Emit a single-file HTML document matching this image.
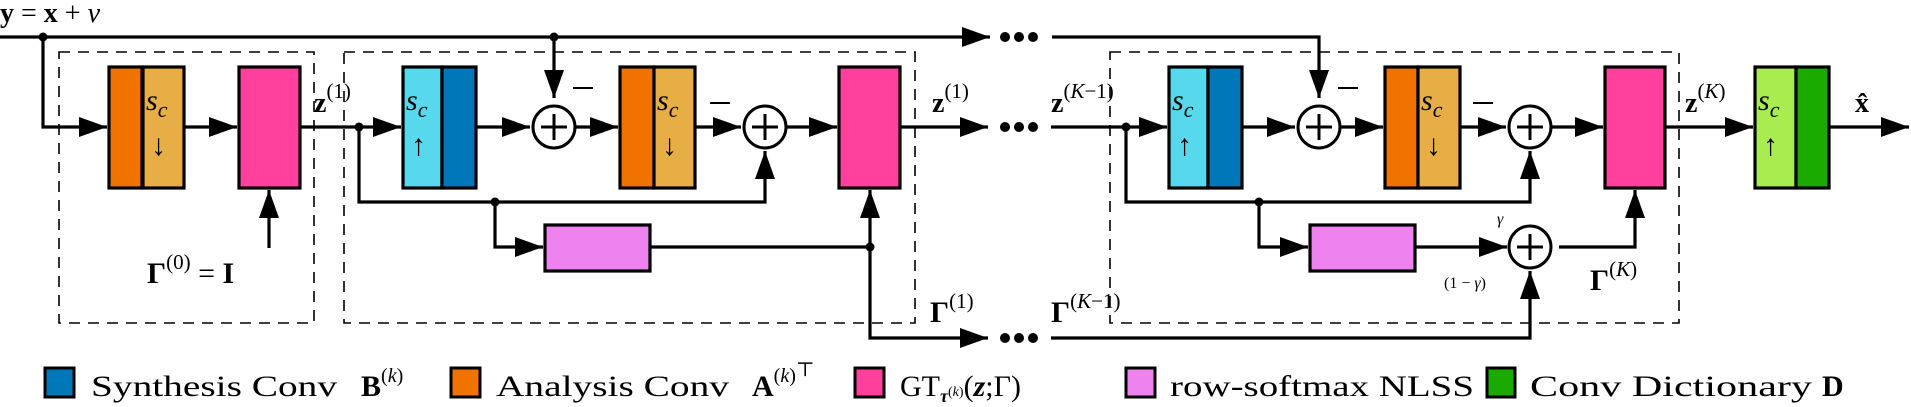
<!DOCTYPE html>
<html><head><meta charset="utf-8"><style>
html,body{margin:0;padding:0;background:#fff;}
svg{display:block;}
text{font-family:"Liberation Serif","DejaVu Serif",serif;fill:#000;}
</style></head><body>
<svg width="1911" height="407" viewBox="0 0 1911 407" xmlns="http://www.w3.org/2000/svg">
<defs>
<marker id="a" viewBox="0 0 28 20" refX="28" refY="10" markerWidth="28" markerHeight="20" markerUnits="userSpaceOnUse" orient="auto">
<path d="M0,0 L28,10 L0,20 Z" fill="#000"/></marker>
</defs>
<g fill="none" stroke="#000" stroke-width="1.6" stroke-dasharray="11,8">
<rect x="59" y="52" width="255" height="271"/>
<rect x="344" y="52" width="571" height="271"/>
<rect x="1110" y="52" width="569" height="271"/>
</g>
<g stroke="#000" stroke-width="3.2" fill="none">
<!-- top line -->
<line x1="0" y1="37" x2="990" y2="37" marker-end="url(#a)"/>
<polyline points="1052,37 1319,37 1319,98" marker-end="url(#a)"/>
<line x1="554" y1="37" x2="554" y2="98" marker-end="url(#a)"/>
<polyline points="43,37 43,127 107,127" marker-end="url(#a)"/>
<line x1="184" y1="127" x2="237" y2="127" marker-end="url(#a)"/>
<line x1="300" y1="127" x2="401" y2="127" marker-end="url(#a)"/>
<line x1="269" y1="248" x2="269" y2="190" marker-end="url(#a)"/>
<line x1="476" y1="127" x2="530" y2="127" marker-end="url(#a)"/>
<line x1="576" y1="127" x2="618" y2="127" marker-end="url(#a)"/>
<line x1="695" y1="127" x2="741" y2="127" marker-end="url(#a)"/>
<line x1="787" y1="127" x2="837" y2="127" marker-end="url(#a)"/>
<polyline points="359,127 359,202 765,202 765,151" marker-end="url(#a)"/>
<polyline points="495,202 495,247 543,247" marker-end="url(#a)"/>
<polyline points="650,247 870,247"/>
<line x1="870" y1="247" x2="870" y2="190" marker-end="url(#a)"/>
<polyline points="870,247 870,338 988,338" marker-end="url(#a)"/>
<line x1="900" y1="127" x2="988" y2="127" marker-end="url(#a)"/>
<!-- stage K -->
<line x1="1051" y1="127" x2="1167" y2="127" marker-end="url(#a)"/>
<line x1="1242" y1="127" x2="1295" y2="127" marker-end="url(#a)"/>
<line x1="1341" y1="127" x2="1383" y2="127" marker-end="url(#a)"/>
<line x1="1460" y1="127" x2="1506" y2="127" marker-end="url(#a)"/>
<line x1="1552" y1="127" x2="1603" y2="127" marker-end="url(#a)"/>
<polyline points="1126,127 1126,202 1530,202 1530,151" marker-end="url(#a)"/>
<polyline points="1259,202 1259,247 1308,247" marker-end="url(#a)"/>
<line x1="1415" y1="247" x2="1507" y2="247" marker-end="url(#a)"/>
<polyline points="1559,247 1635,247 1635,190" marker-end="url(#a)"/>
<polyline points="1051,338 1530,338 1530,271" marker-end="url(#a)"/>
<line x1="1665" y1="127" x2="1753" y2="127" marker-end="url(#a)"/>
<line x1="1829" y1="127" x2="1909" y2="127" marker-end="url(#a)"/>
</g>
<!-- dots -->
<g fill="#000">
<circle cx="43" cy="37" r="4.5"/><circle cx="554" cy="37" r="4.5"/>
<circle cx="359" cy="127" r="4.5"/><circle cx="495" cy="202" r="4.5"/><circle cx="870" cy="247" r="4.5"/>
<circle cx="1126" cy="127" r="4.5"/><circle cx="1259" cy="202" r="4.5"/>
<circle cx="1005" cy="37" r="5"/><circle cx="1019" cy="37" r="5"/><circle cx="1033" cy="37" r="5"/>
<circle cx="1005" cy="127" r="5"/><circle cx="1019" cy="127" r="5"/><circle cx="1033" cy="127" r="5"/>
<circle cx="1005" cy="338" r="5"/><circle cx="1019" cy="338" r="5"/><circle cx="1033" cy="338" r="5"/>
</g>
<!-- boxes -->
<g stroke="#000" stroke-width="3.2">
<rect x="109" y="67" width="33" height="121" fill="#F07300"/>
<rect x="143" y="67" width="41" height="121" fill="#E8AE46"/>
<rect x="239" y="67" width="61" height="121" fill="#FF409C"/>
<rect x="403" y="67" width="39" height="121" fill="#57D8EC"/>
<rect x="442" y="67" width="34" height="121" fill="#0077B8"/>
<rect x="620" y="67" width="34" height="121" fill="#F07300"/>
<rect x="654" y="67" width="41" height="121" fill="#E8AE46"/>
<rect x="839" y="67" width="61" height="121" fill="#FF409C"/>
<rect x="545" y="225" width="105" height="46" fill="#EE82EE"/>
<rect x="1169" y="67" width="39" height="121" fill="#57D8EC"/>
<rect x="1208" y="67" width="34" height="121" fill="#0077B8"/>
<rect x="1385" y="67" width="33" height="121" fill="#F07300"/>
<rect x="1418" y="67" width="42" height="121" fill="#E8AE46"/>
<rect x="1605" y="67" width="60" height="121" fill="#FF409C"/>
<rect x="1310" y="225" width="105" height="46" fill="#EE82EE"/>
<rect x="1755" y="67" width="41" height="121" fill="#A8EC50"/>
<rect x="1796" y="67" width="33" height="121" fill="#1AAA00"/>
</g>
<!-- plus circles -->
<g stroke="#000" stroke-width="3" fill="#fff">
<circle cx="554" cy="127" r="21"/><circle cx="765" cy="127" r="21"/>
<circle cx="1319" cy="127" r="21"/><circle cx="1530" cy="127" r="21"/><circle cx="1530" cy="247" r="21"/>
</g>
<g stroke="#000" stroke-width="3">
<path d="M541,127 H567 M554,114 V140"/><path d="M752,127 H778 M765,114 V140"/>
<path d="M1306,127 H1332 M1319,114 V140"/><path d="M1517,127 H1543 M1530,114 V140"/><path d="M1517,247 H1543 M1530,234 V260"/>
</g>
<!-- s_c labels -->
<g font-style="italic" font-size="30">
<text x="146" y="110">s<tspan font-size="22" dy="7">c</tspan></text>
<text x="657" y="110">s<tspan font-size="22" dy="7">c</tspan></text>
<text x="1421" y="110">s<tspan font-size="22" dy="7">c</tspan></text>
<text x="406" y="110">s<tspan font-size="22" dy="7">c</tspan></text>
<text x="1172" y="110">s<tspan font-size="22" dy="7">c</tspan></text>
<text x="1758" y="110">s<tspan font-size="22" dy="7">c</tspan></text>
</g>
<g font-size="30">
<text x="151" y="155">↓</text><text x="662" y="155">↓</text><text x="1426" y="155">↓</text>
<text x="411" y="155">↑</text><text x="1177" y="155">↑</text><text x="1763" y="155">↑</text>
</g>
<!-- minus signs -->
<g stroke="#000" stroke-width="2"><line x1="573" y1="88" x2="593" y2="88"/><line x1="710" y1="103" x2="730" y2="103"/>
<line x1="1338" y1="88" x2="1358" y2="88"/><line x1="1473" y1="103" x2="1493" y2="103"/></g>
<!-- labels -->
<text x="0" y="22" font-size="28"><tspan font-weight="bold">y</tspan> = <tspan font-weight="bold">x</tspan> + <tspan font-style="italic">ν</tspan></text>
<text x="314" y="112" font-size="28"><tspan font-weight="bold">z</tspan><tspan font-size="21" dy="-14">(1)</tspan></text>
<text x="932" y="112" font-size="28"><tspan font-weight="bold">z</tspan><tspan font-size="21" dy="-14">(1)</tspan></text>
<text x="1051" y="112" font-size="28"><tspan font-weight="bold">z</tspan><tspan font-size="21" dy="-14">(<tspan font-style="italic">K</tspan>−1)</tspan></text>
<text x="1685" y="112" font-size="28"><tspan font-weight="bold">z</tspan><tspan font-size="21" dy="-14">(<tspan font-style="italic">K</tspan>)</tspan></text>
<text x="1855" y="112" font-size="28" font-weight="bold">x̂</text>
<text x="147" y="283" font-size="30"><tspan font-weight="bold">Γ</tspan><tspan font-size="21" dy="-14">(0)</tspan><tspan dy="14"> = </tspan><tspan font-weight="bold">I</tspan></text>
<text x="930" y="322" font-size="30"><tspan font-weight="bold">Γ</tspan><tspan font-size="21" dy="-14">(1)</tspan></text>
<text x="1051" y="322" font-size="30"><tspan font-weight="bold">Γ</tspan><tspan font-size="21" dy="-14">(<tspan font-style="italic">K</tspan>−1)</tspan></text>
<text x="1590" y="290" font-size="30"><tspan font-weight="bold">Γ</tspan><tspan font-size="21" dy="-14">(<tspan font-style="italic">K</tspan>)</tspan></text>
<text x="1497" y="224" font-size="16" font-style="italic">γ</text>
<text x="1444" y="288" font-size="16">(1 − <tspan font-style="italic">γ</tspan>)</text>
<!-- legend -->
<g stroke="#000" stroke-width="3">
<rect x="45" y="368" width="29" height="29" fill="#0077B8"/>
<rect x="451" y="368" width="29" height="29" fill="#F07300"/>
<rect x="855" y="368" width="29" height="29" fill="#FF409C"/>
<rect x="1126" y="368" width="29" height="29" fill="#EE82EE"/>
<rect x="1487" y="368" width="28" height="29" fill="#1AAA00"/>
</g>
<g font-size="30">
<text x="91" y="396" textLength="246" lengthAdjust="spacingAndGlyphs">Synthesis Conv</text>
<text x="361" y="396"><tspan font-weight="bold">B</tspan><tspan font-size="20" dy="-14">(<tspan font-style="italic">k</tspan>)</tspan></text>
<text x="496" y="396" textLength="233" lengthAdjust="spacingAndGlyphs">Analysis Conv</text>
<text x="752" y="396"><tspan font-weight="bold">A</tspan><tspan font-size="20" dy="-14">(<tspan font-style="italic">k</tspan>)</tspan><tspan font-size="20" dy="-6">⊤</tspan></text>
<text x="900" y="396">GT<tspan font-size="18" dy="6" font-weight="bold" font-style="italic">τ</tspan><tspan font-size="14" dy="-6">(<tspan font-style="italic">k</tspan>)</tspan><tspan dy="0">(</tspan><tspan font-style="italic" font-weight="bold">z</tspan>;<tspan>Γ</tspan>)</text>
<text x="1170" y="396" textLength="304" lengthAdjust="spacingAndGlyphs">row-softmax NLSS</text>
<text x="1530" y="396" textLength="282" lengthAdjust="spacingAndGlyphs">Conv Dictionary</text>
<text x="1822" y="396" font-weight="bold">D</text>
</g>
</svg>
</body></html>
